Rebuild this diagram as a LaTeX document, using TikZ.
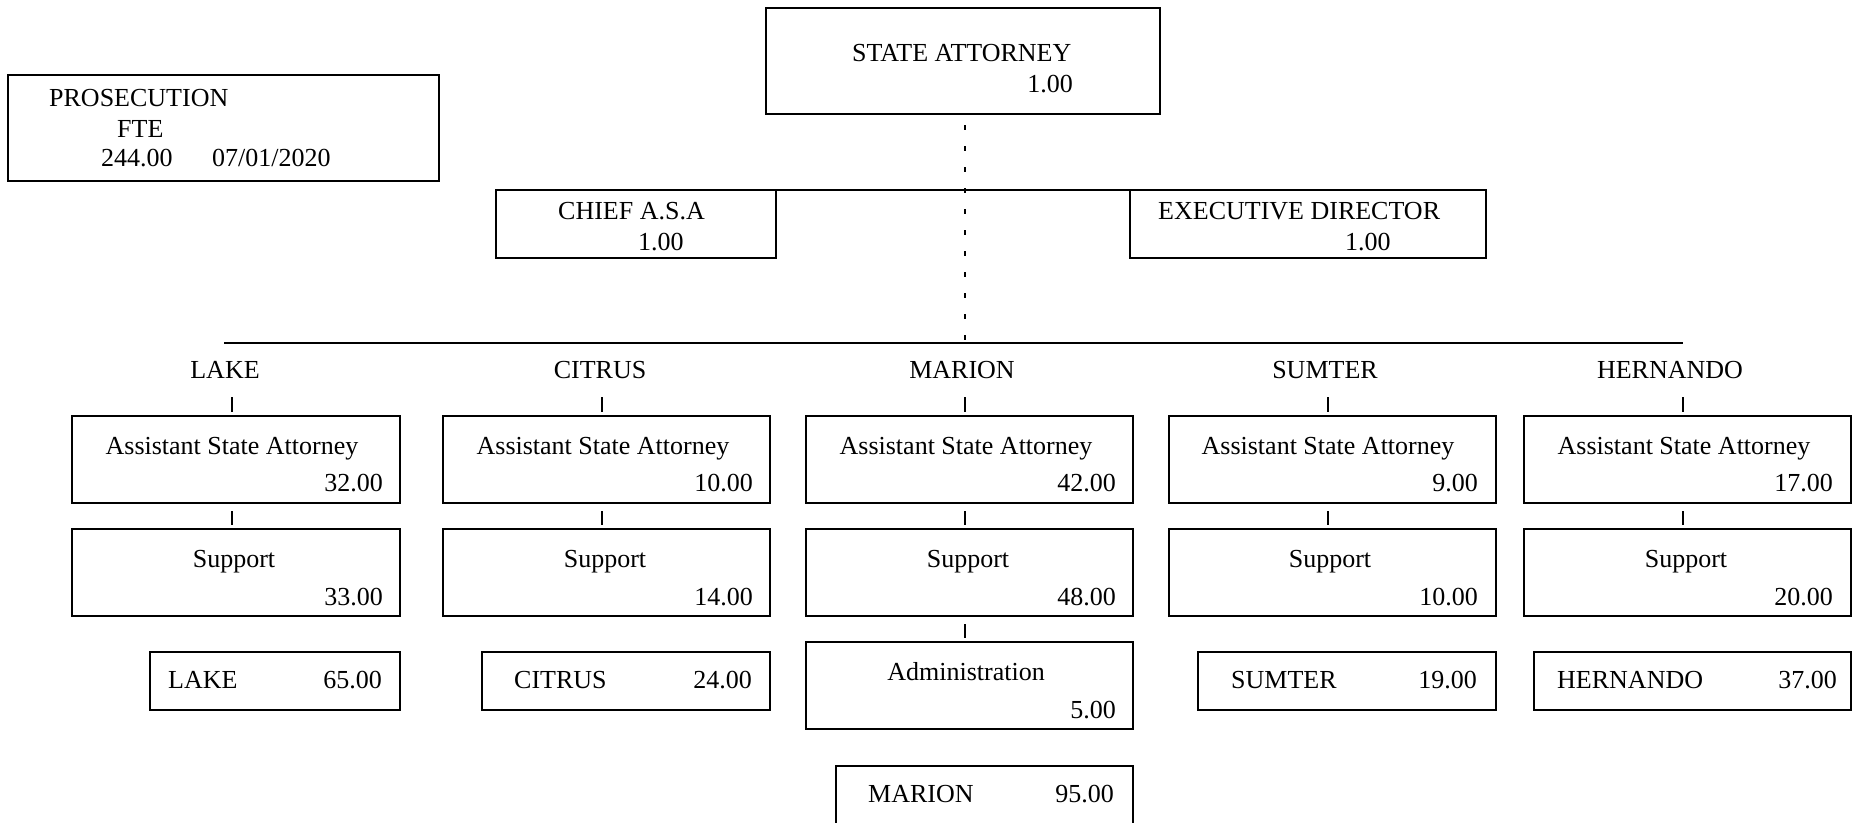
\documentclass[tikz,border=0pt]{standalone}
\usepackage{fontspec}
\setmainfont{Liberation Serif}
\usetikzlibrary{fit}
\begin{document}
\begin{tikzpicture}[x=1pt,y=-1pt,
  box/.style={draw, line width=2pt, inner sep=0pt, outer sep=0pt},
  txt/.style={inner sep=0pt, font=\fontsize{26}{30}\selectfont},
  tickln/.style={line width=1.8pt},
  dotln/.style={line width=1.6pt, dash pattern=on 5pt off 16pt}]
\path[use as bounding box, fill=white] (0,0) rectangle (1862,822);

% top boxes
\node[box, fit={(8,75) (439,181)}] (pros) {};
\node[txt, anchor=base west] (prost) at (49,106) {PROSECUTION};
\node[txt, anchor=base west] (fte) at (117,137) {FTE};
\node[txt, anchor=base west] (ftev) at (101,166) {244.00};
\node[txt, anchor=base west] (date) at (212,166) {07/01/2020};

\node[box, fit={(766,8) (1160,114)}] (sa) {};
\node[txt, anchor=base west] (sat) at (852,61) {STATE ATTORNEY};
\node[txt, anchor=base east] (sav) at (1073,92) {1.00};

\node[box, fit={(496,190) (776,258)}] (chief) {};
\node[txt, anchor=base west] (chieft) at (558,219) {CHIEF A.S.A};
\node[txt, anchor=base west] (chiefv) at (638,250) {1.00};

\node[box, fit={(1130,190) (1486,258)}] (exec) {};
\node[txt, anchor=base west] (exect) at (1158,219) {EXECUTIVE DIRECTOR};
\node[txt, anchor=base west] (execv) at (1345,250) {1.00};

\draw[line width=2pt] (chief.north east) -- (exec.north west);

% main bar and dotted line
\coordinate (hl) at (224,343);
\coordinate (hr) at (1683,343);
\draw[line width=2.4pt] (hl) -- (hr);
\coordinate (hub) at (965,343);
\coordinate (dtop) at (965,125);
\draw[dotln] (dtop) -- (hub);

% county labels
\node[txt, anchor=base] (lLake) at (225,378) {LAKE};
\node[txt, anchor=base] (lCit) at (600,378) {CITRUS};
\node[txt, anchor=base] (lMar) at (962,378) {MARION};
\node[txt, anchor=base] (lSum) at (1325,378) {SUMTER};
\node[txt, anchor=base] (lHer) at (1670,378) {HERNANDO};

% ticks
\foreach \tx/\nm in {232/a,602/b,965/c,1328/d,1683/e}{
  \coordinate (t1\nm) at (\tx,397);
  \coordinate (t2\nm) at (\tx,511);
  \draw[tickln] (t1\nm) -- ++(0,15);
  \draw[tickln] (t2\nm) -- ++(0,14);
}
\coordinate (t3c) at (965,624);
\draw[tickln] (t3c) -- ++(0,14);

% LAKE column
\node[box, fit={(72,416) (400,503)}] (asaA) {};
\node[txt, anchor=base] (asaAt) at (232,454) {Assistant State Attorney};
\node[txt, anchor=base east] (asaAv) at (383,491) {32.00};
\node[box, fit={(72,529) (400,616)}] (supA) {};
\node[txt, anchor=base] (supAt) at (234,567) {Support};
\node[txt, anchor=base east] (supAv) at (383,605) {33.00};
\node[box, fit={(150,652) (400,710)}] (totA) {};
\node[txt, anchor=base west] (totAt) at (168,688) {LAKE};
\node[txt, anchor=base east] (totAv) at (382,688) {65.00};

% CITRUS column
\node[box, fit={(443,416) (770,503)}] (asaB) {};
\node[txt, anchor=base] (asaBt) at (603,454) {Assistant State Attorney};
\node[txt, anchor=base east] (asaBv) at (753,491) {10.00};
\node[box, fit={(443,529) (770,616)}] (supB) {};
\node[txt, anchor=base] (supBt) at (605,567) {Support};
\node[txt, anchor=base east] (supBv) at (753,605) {14.00};
\node[box, fit={(482,652) (770,710)}] (totB) {};
\node[txt, anchor=base west] (totBt) at (514,688) {CITRUS};
\node[txt, anchor=base east] (totBv) at (752,688) {24.00};

% MARION column
\node[box, fit={(806,416) (1133,503)}] (asaC) {};
\node[txt, anchor=base] (asaCt) at (966,454) {Assistant State Attorney};
\node[txt, anchor=base east] (asaCv) at (1116,491) {42.00};
\node[box, fit={(806,529) (1133,616)}] (supC) {};
\node[txt, anchor=base] (supCt) at (968,567) {Support};
\node[txt, anchor=base east] (supCv) at (1116,605) {48.00};
\node[box, fit={(806,642) (1133,729)}] (admC) {};
\node[txt, anchor=base] (admCt) at (966,680) {Administration};
\node[txt, anchor=base east] (admCv) at (1116,718) {5.00};
\node[box, fit={(836,766) (1133,840)}] (totC) {};
\node[txt, anchor=base west] (totCt) at (868,802) {MARION};
\node[txt, anchor=base east] (totCv) at (1114,802) {95.00};

% SUMTER column
\node[box, fit={(1169,416) (1496,503)}] (asaD) {};
\node[txt, anchor=base] (asaDt) at (1328,454) {Assistant State Attorney};
\node[txt, anchor=base east] (asaDv) at (1478,491) {9.00};
\node[box, fit={(1169,529) (1496,616)}] (supD) {};
\node[txt, anchor=base] (supDt) at (1330,567) {Support};
\node[txt, anchor=base east] (supDv) at (1478,605) {10.00};
\node[box, fit={(1198,652) (1496,710)}] (totD) {};
\node[txt, anchor=base west] (totDt) at (1231,688) {SUMTER};
\node[txt, anchor=base east] (totDv) at (1477,688) {19.00};

% HERNANDO column
\node[box, fit={(1524,416) (1851,503)}] (asaE) {};
\node[txt, anchor=base] (asaEt) at (1684,454) {Assistant State Attorney};
\node[txt, anchor=base east] (asaEv) at (1833,491) {17.00};
\node[box, fit={(1524,529) (1851,616)}] (supE) {};
\node[txt, anchor=base] (supEt) at (1686,567) {Support};
\node[txt, anchor=base east] (supEv) at (1833,605) {20.00};
\node[box, fit={(1534,652) (1851,710)}] (totE) {};
\node[txt, anchor=base west] (totEt) at (1557,688) {HERNANDO};
\node[txt, anchor=base east] (totEv) at (1837,688) {37.00};
\end{tikzpicture}
\end{document}
